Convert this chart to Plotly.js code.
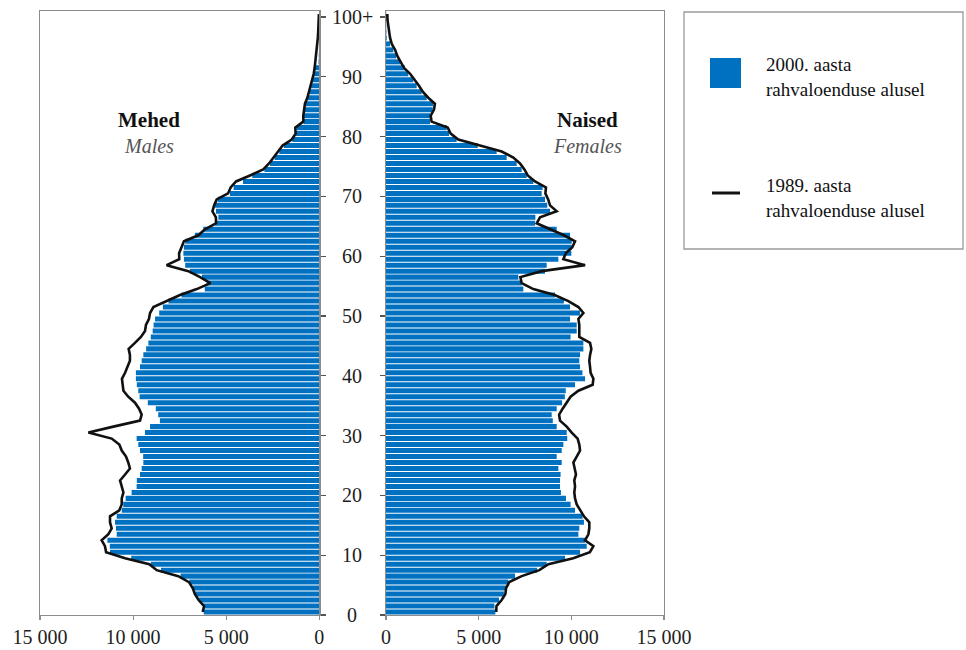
<!DOCTYPE html>
<html>
<head>
<meta charset="utf-8">
<script src="https://cdn.plot.ly/plotly-3.0.1.min.js"></script>
<style>
  html, body { margin: 0; padding: 0; background: #ffffff; }
  #chart { width: 966px; height: 650px; }
</style>
</head>
<body>
<div id="chart"></div>
<script>
// ---- Data (ages 0 .. 100+) ----
const ages = Array.from({ length: 101 }, (_, i) => i);

// Males, 2000 census (bars)
const males2000 = [
  6200, 6250, 6450, 6650, 6780, 6980, 7450, 8500, 9050, 10100,
  11240, 11250, 11380, 10880, 10920, 10970, 10880, 10610, 10530, 10400,
  10080, 9810, 9800, 9630, 9540, 9450, 9460, 9630, 9720, 9810,
  9360, 9090, 8560, 8650, 8780, 9210, 9650, 9720, 9800, 9850,
  9850, 9630, 9540, 9450, 9300, 9180, 9050, 8950, 8900, 8820,
  8600, 8400, 8100, 7400, 6150, 6050, 6300, 6950, 7200, 7270,
  7300, 7270, 7200, 6680, 6230, 5600, 5420, 5550, 5600, 5450,
  4800, 4600, 4100, 3600, 2950, 2650, 2400, 2150, 1900, 1450,
  1250, 1220, 850, 840, 800, 740, 620, 530, 440, 360,
  290, 230, 40, 30, 20, 15, 10, 5, 5, 5, 5
];

// Males, 1989 census (line)
const males1989 = [
  6260, 6190, 6480, 6680, 6800, 7000, 7570, 8730, 9130, 10430,
  11450, 11510, 11690, 11330, 11150, 11240, 11240, 10740, 10610, 10610,
  10520, 10610, 10700, 10430, 10170, 10260, 10380, 10610, 10740, 11150,
  12400, 11060, 9630, 9540, 9680, 9900, 10260, 10520, 10560, 10600,
  10430, 10290, 10170, 10170, 10240, 9900, 9580, 9360, 9310, 9150,
  9090, 8910, 8200, 7480, 6580, 5850, 6400, 7030, 8200, 7520,
  7530, 7390, 7270, 6500, 6140, 5550, 5550, 5740, 5650, 5510,
  4900, 4760, 4470, 3720, 3010, 2700, 2470, 2200, 1970, 1480,
  1270, 1290, 860, 860, 820, 770, 640, 550, 460, 380,
  300, 250, 215, 160, 120, 100, 80, 60, 45, 30, 20
];

// Females, 2000 census (bars)
const females2000 = [
  5900, 5850, 6100, 6360, 6470, 6600, 6960, 8150, 8670, 9660,
  10470, 10830, 10740, 10380, 10430, 10680, 10610, 10200, 9960, 9710,
  9440, 9390, 9390, 9420, 9300, 9480, 9210, 9480, 9570, 9780,
  9750, 9210, 9000, 8940, 9210, 9500, 9650, 9700, 10200, 10740,
  10600, 10470, 10430, 10470, 10650, 10650, 9960, 10290, 10290, 9930,
  10470, 9930, 9600, 9120, 7410, 7320, 7140, 8580, 8670, 9300,
  10000, 10020, 10020, 9930, 9210, 8040, 8060, 8850, 8700, 8580,
  8400, 8450, 7950, 7590, 7320, 7050, 6510, 5970, 4950, 3810,
  3400, 3275, 2375, 2375, 2520, 2555, 2195, 1925, 1655, 1475,
  1200, 1025, 755, 540, 396, 216, 40, 25, 15, 10, 10
];

// Females, 1989 census (line)
const females1989 = [
  5950, 5960, 6240, 6440, 6480, 6650, 7320, 8270, 8760, 10100,
  11000, 11190, 10740, 10920, 10970, 10970, 10680, 10470, 10290, 10200,
  10160, 10200, 10160, 10250, 10200, 10110, 10290, 10470, 10430, 10340,
  10020, 9750, 9390, 9340, 9530, 9750, 9960, 10380, 11150, 11190,
  11040, 11010, 10970, 11010, 11080, 11010, 10430, 10430, 10430, 10380,
  10650, 10380, 9840, 9100, 7950, 7320, 7250, 8400, 10740, 9570,
  9700, 10050, 10200, 9600, 8900, 8130, 8310, 9210, 8850, 8750,
  8600, 8630, 8040, 7650, 7470, 7230, 6870, 6240, 5070, 3900,
  3490, 3330, 2460, 2410, 2590, 2640, 2280, 1980, 1780, 1530,
  1300, 970, 790, 610, 490, 310, 220, 160, 130, 80, 70
];

// Tick labels
const yTickVals = [0, 10, 20, 30, 40, 50, 60, 70, 80, 90, 100];
const yTickText = ['0', '10', '20', '30', '40', '50', '60', '70', '80', '90', '100+'];
const xTickVals = [0, 5000, 10000, 15000];
const xTickText = ['0', '5 000', '10 000', '15 000'];

// Text labels
const maleTitle = 'Mehed';
const maleSub = 'Males';
const femaleTitle = 'Naised';
const femaleSub = 'Females';
const legendBars = '2000. aasta<br>rahvaloenduse alusel';
const legendLine = '1989. aasta<br>rahvaloenduse alusel';

// ---- Styling / geometry ----
const W = 966, H = 650;
const px = v => v / W;
const py = v => 1 - v / H;
const BLUE = '#0070C0';
const FRAME = '#8c8c8c';
const SERIF = 'Liberation Serif';
const yMid = ages.map(a => a + 0.5);

const traces = [
  { type: 'bar', orientation: 'h', x: males2000, y: yMid, xaxis: 'x', yaxis: 'y',
    marker: { color: BLUE, line: { width: 0 } }, hoverinfo: 'x+y', showlegend: false },
  { type: 'scatter', mode: 'lines', x: males1989, y: yMid, xaxis: 'x', yaxis: 'y',
    line: { color: '#111111', width: 2.6 }, showlegend: false },
  { type: 'bar', orientation: 'h', x: females2000, y: yMid, xaxis: 'x2', yaxis: 'y2',
    marker: { color: BLUE, line: { width: 0 } }, hoverinfo: 'x+y', showlegend: false },
  { type: 'scatter', mode: 'lines', x: females1989, y: yMid, xaxis: 'x2', yaxis: 'y2',
    line: { color: '#111111', width: 2.6 }, showlegend: false }
];

const tickFont = { family: SERIF, size: 20, color: '#1e1e1e' };
const yDomain = [35 / H, 639 / H];

const xCommon = {
  showline: true, mirror: true, linecolor: FRAME, linewidth: 1.3,
  ticks: 'outside', ticklen: 4, tickcolor: FRAME, tickwidth: 1.2,
  tickvals: xTickVals, ticktext: xTickText, tickfont: tickFont,
  ticklabelstandoff: 0,
  showgrid: false, zeroline: false, fixedrange: true
};
const yCommon = {
  domain: yDomain, range: [0, 101], autorange: false,
  showline: true, mirror: true, linecolor: FRAME, linewidth: 1.3,
  ticks: 'outside', ticklen: 5, tickcolor: '#555', tickwidth: 1.2,
  tickvals: yTickVals, showticklabels: false,
  showgrid: false, zeroline: false, fixedrange: true
};

const annotations = [];
yTickVals.forEach((v, i) => {
  annotations.push({
    xref: 'paper', yref: 'y2', x: px(352), y: v, text: yTickText[i],
    showarrow: false, xanchor: 'center', yanchor: 'middle', font: tickFont
  });
});
annotations.push(
  { xref: 'paper', yref: 'paper', x: px(148.5), y: py(120), text: '<b>' + maleTitle + '</b>',
    showarrow: false, xanchor: 'center', yanchor: 'middle',
    font: { family: SERIF, size: 21, color: '#111' } },
  { xref: 'paper', yref: 'paper', x: px(148.5), y: py(146), text: '<i>' + maleSub + '</i>',
    showarrow: false, xanchor: 'center', yanchor: 'middle',
    font: { family: SERIF, size: 20, color: '#555' } },
  { xref: 'paper', yref: 'paper', x: px(587), y: py(120), text: '<b>' + femaleTitle + '</b>',
    showarrow: false, xanchor: 'center', yanchor: 'middle',
    font: { family: SERIF, size: 21, color: '#111' } },
  { xref: 'paper', yref: 'paper', x: px(587), y: py(146), text: '<i>' + femaleSub + '</i>',
    showarrow: false, xanchor: 'center', yanchor: 'middle',
    font: { family: SERIF, size: 20, color: '#555' } },
  { xref: 'paper', yref: 'paper', x: px(764), y: py(77), text: legendBars,
    showarrow: false, xanchor: 'left', yanchor: 'middle', align: 'left',
    font: { family: SERIF, size: 19, color: '#111' } },
  { xref: 'paper', yref: 'paper', x: px(764), y: py(198), text: legendLine,
    showarrow: false, xanchor: 'left', yanchor: 'middle', align: 'left',
    font: { family: SERIF, size: 19, color: '#111' } }
);

const shapes = [
  { type: 'rect', xref: 'paper', yref: 'paper', x0: px(684), x1: px(963), y0: py(249), y1: py(12),
    line: { color: '#9a9a9a', width: 1.3 }, fillcolor: 'rgba(0,0,0,0)' },
  { type: 'rect', xref: 'paper', yref: 'paper', x0: px(710), x1: px(741), y0: py(88), y1: py(58),
    line: { width: 0 }, fillcolor: BLUE },
  { type: 'line', xref: 'paper', yref: 'paper', x0: px(712), x1: px(740), y0: py(193), y1: py(193),
    line: { color: '#111', width: 3 } }
];

const layout = {
  width: W, height: H,
  margin: { l: 0, r: 0, t: 0, b: 0 },
  paper_bgcolor: '#ffffff', plot_bgcolor: '#ffffff',
  font: { family: SERIF },
  showlegend: false,
  bargap: 0.16,
  xaxis: Object.assign({}, xCommon, { domain: [px(40), px(319.3)], anchor: 'y', range: [15000, 0], autorange: false }),
  yaxis: Object.assign({}, yCommon, { anchor: 'x', side: 'right' }),
  xaxis2: Object.assign({}, xCommon, { domain: [px(386), px(664)], anchor: 'y2', range: [0, 15000], autorange: false }),
  yaxis2: Object.assign({}, yCommon, { anchor: 'x2', side: 'left' }),
  annotations: annotations,
  shapes: shapes
};

Plotly.newPlot('chart', traces, layout, { displayModeBar: false, staticPlot: true });
</script>
</body>
</html>
